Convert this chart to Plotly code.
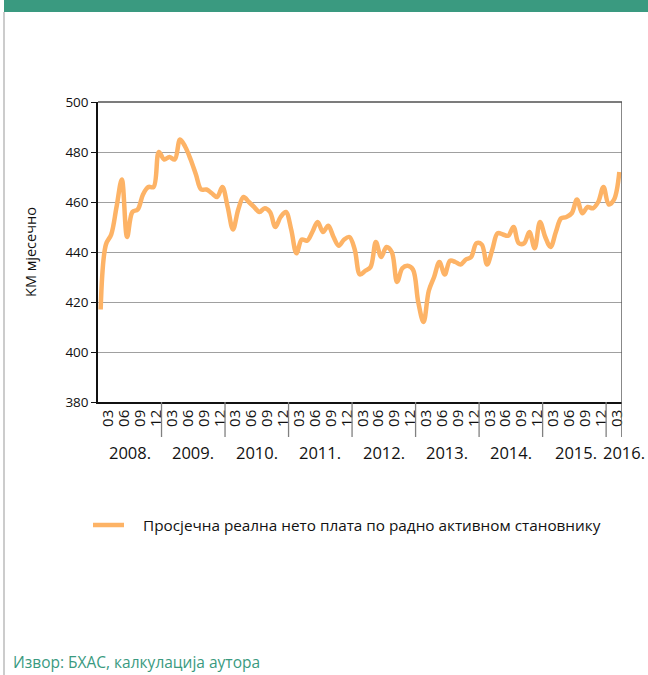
import plotly.graph_objects as go

# Monthly average real net wage per economically active resident (KM), Jan 2008 - Mar 2016
start_year = 2008
wage = [
    417, 443, 447, 458, 469, 446, 456, 457, 463, 466, 466, 480,          # 2008
    477, 478, 477, 485, 482, 477, 471, 465, 465, 463.5, 462, 466,        # 2009
    458, 449, 457, 462, 460, 458, 456, 457.5, 456, 450, 454, 456,        # 2010
    449, 439.5, 445, 444.5, 448, 452, 448, 450.5, 446, 442.5, 445, 446,  # 2011
    441, 431, 432.5, 434, 444, 438, 442, 440, 428, 433.5, 434.5, 433,    # 2012
    420, 412, 424.5, 430, 436, 431, 436.5, 436, 435, 437, 438, 443.5,    # 2013
    443, 435, 441, 447.5, 447, 446.5, 450, 443.5, 443.5, 448, 441.5, 452,  # 2014
    446, 442, 448, 453.5, 454, 455.5, 461, 455.5, 458, 457.5, 460, 466,  # 2015
    459, 461, 472,                                                       # 2016
]
quarter_labels = ["03", "06", "09", "12"]
year_labels = ["2008.", "2009.", "2010.", "2011.", "2012.", "2013.", "2014.", "2015.", "2016."]
series_name = "Просјечна реална нето плата по радно активном становнику"
y_title = "KM мјесечно"
source_text = "Извор: БХАС, калкулација аутора"

n = len(wage)
months = [f"{start_year + i // 12}-{i % 12 + 1:02d}" for i in range(n)]
idx = list(range(n))

# quarter-end tick positions (March, June, September, December)
tick_pos, tick_txt = [], []
for i, m in enumerate(months):
    mm = m.split("-")[1]
    if mm in quarter_labels:
        tick_pos.append(i - 0.5)
        tick_txt.append(mm)

W, H = 648, 675
L, R, T, B = 98, 26, 102, 273
pw, ph = W - L - R, H - T - B


def px_x(p):
    return (p - L) / pw


def px_y(p):
    return (H - B - p) / ph


def idx_to_paper(v):
    return (v + 0.5) / n


ORANGE = "#FDB366"
GREEN = "#3A9A80"
FONT = "Open Sans"

fig = go.Figure()
fig.add_trace(go.Scatter(
    x=idx, y=wage, mode="lines", name=series_name, showlegend=False,
    line=dict(color=ORANGE, width=4.5, shape="spline", smoothing=1),
    hoverinfo="skip",
))

shapes = []
# year group dividers below the axis
for k in range(1, len(year_labels)):
    xb = 12 * k - 0.5
    shapes.append(dict(type="line", xref="x", yref="paper", x0=xb, x1=xb,
                       y0=0, y1=px_y(437), line=dict(color="#808080", width=1.3)))
# right frame edge, continued down through the label row
shapes.append(dict(type="line", xref="x", yref="paper", x0=n - 0.5, x1=n - 0.5,
                   y0=1, y1=px_y(437), line=dict(color="#606060", width=1.5)))
# top frame edge
shapes.append(dict(type="line", xref="paper", yref="paper", x0=0, x1=1,
                   y0=1, y1=1, line=dict(color="#505050", width=1.5)))
# header band and page border
shapes.append(dict(type="rect", xref="paper", yref="paper", x0=px_x(4), x1=px_x(660),
                   y0=px_y(12), y1=px_y(-10), fillcolor=GREEN, line=dict(width=0)))
shapes.append(dict(type="line", xref="paper", yref="paper", x0=px_x(4), x1=px_x(4),
                   y0=px_y(12), y1=px_y(690), line=dict(color="#BBBBBB", width=1.5)))
# legend key for the series
shapes.append(dict(type="line", xref="paper", yref="paper", x0=px_x(93), x1=px_x(124),
                   y0=px_y(525), y1=px_y(525), line=dict(color=ORANGE, width=4.5)))

annotations = []
year_x = [5.5, 17.5, 29.5, 41.5, 53.5, 65.5, 77.5, 89.8, 98.9]
for label, xc in zip(year_labels, year_x):
    annotations.append(dict(x=idx_to_paper(xc), y=px_y(452), xref="paper", yref="paper",
                            text=label, showarrow=False, xanchor="center", yanchor="middle",
                            font=dict(family=FONT, size=16.5, color="#111111")))
annotations.append(dict(x=px_x(30), y=px_y(252), xref="paper", yref="paper", text=y_title,
                        textangle=-90, showarrow=False, xanchor="center", yanchor="middle",
                        font=dict(family=FONT, size=14.5, color="#111111")))
annotations.append(dict(x=px_x(141), y=px_y(525), xref="paper", yref="paper", text=series_name,
                        showarrow=False, xanchor="left", yanchor="middle",
                        font=dict(family=FONT, size=15.3, color="#111111")))
annotations.append(dict(x=px_x(11), y=px_y(675), xref="paper", yref="paper", text=source_text,
                        showarrow=False, xanchor="left", yanchor="bottom",
                        font=dict(family=FONT, size=15.5, color=GREEN)))

fig.update_layout(
    width=W, height=H, autosize=False,
    margin=dict(l=L, r=R, t=T, b=B, pad=0),
    paper_bgcolor="white", plot_bgcolor="white",
    font=dict(family=FONT, color="#111111"),
    showlegend=False,
    xaxis=dict(range=[-0.5, n - 0.5], tickmode="array", tickvals=tick_pos, ticktext=tick_txt,
               tickangle=-90, ticks="", showgrid=False, zeroline=False,
               showline=True, linecolor="#111111", linewidth=1.5,
               tickfont=dict(family=FONT, size=15, color="#111111")),
    yaxis=dict(range=[380, 500], dtick=20, ticks="outside", ticklen=5, tickcolor="#111111",
               showgrid=True, gridcolor="#A0A0A0", gridwidth=1.2, zeroline=False,
               showline=True, linecolor="#111111", linewidth=1.5,
               tickfont=dict(family=FONT, size=13.5, color="#111111")),
    shapes=shapes, annotations=annotations,
)

fig.write_html("out.html")
